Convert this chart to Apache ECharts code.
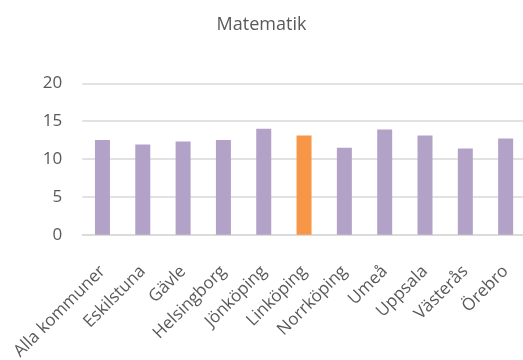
<!DOCTYPE html>
<html>
<head>
<meta charset="utf-8">
<script src="https://cdn.jsdelivr.net/npm/echarts@6/dist/echarts.min.js"></script>
<style>
  html, body { margin: 0; padding: 0; background: #fff; }
  #chart { width: 523px; height: 360px; }
</style>
</head>
<body>
<div id="chart"></div>
<script>
// Kommuner och resultat i matematik
const categories = ['Alla kommuner', 'Eskilstuna', 'Gävle', 'Helsingborg', 'Jönköping',
  'Linköping', 'Norrköping', 'Umeå', 'Uppsala', 'Västerås', 'Örebro'];
const values = [12.5, 11.9, 12.3, 12.5, 14.0, 13.1, 11.5, 13.9, 13.1, 11.4, 12.7];
const highlighted = 'Linköping';
const yTicks = { min: 0, max: 20, interval: 5 };

const purple = '#B3A2C7';
const orange = '#F79646';
const textColor = '#595959';
const font = 'Open Sans';

const chart = echarts.init(document.getElementById('chart'), null, { renderer: 'canvas' });
chart.setOption({
  animation: false,
  backgroundColor: '#ffffff',
  title: {
    text: 'Matematik',
    left: 'center',
    top: 11,
    textStyle: { fontFamily: font, fontSize: 18, fontWeight: 'normal', color: textColor }
  },
  grid: {
    left: 82.3, top: 83.3, width: 443.5, bottom: 125.3,
    containLabel: false, outerBoundsMode: 'none'
  },
  xAxis: {
    type: 'category',
    data: categories,
    axisTick: { show: false },
    axisLine: { lineStyle: { color: '#d9d9d9', width: 1.5 } },
    axisLabel: {
      interval: 0,
      rotate: 45,
      margin: 34,
      fontFamily: font,
      fontSize: 17,
      color: textColor
    }
  },
  yAxis: {
    type: 'value',
    min: yTicks.min,
    max: yTicks.max,
    interval: yTicks.interval,
    axisLine: { show: false },
    axisTick: { show: false },
    splitLine: { lineStyle: { color: '#d9d9d9', width: 1.5 } },
    axisLabel: { margin: 20, fontFamily: font, fontSize: 17, color: textColor }
  },
  series: [{
    type: 'bar',
    barWidth: 15,
    data: values.map((v, i) => ({
      value: v,
      itemStyle: { color: categories[i] === highlighted ? orange : purple }
    }))
  }]
});
</script>
</body>
</html>
